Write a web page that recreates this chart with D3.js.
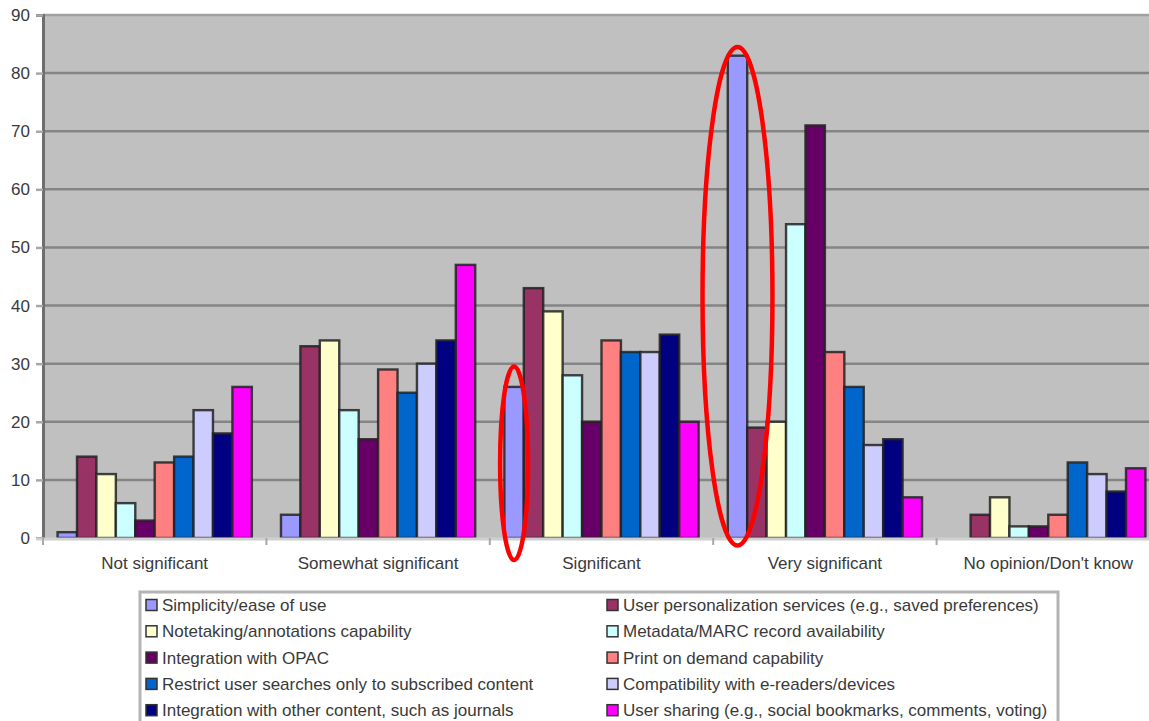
<!DOCTYPE html>
<html>
<head>
<meta charset="utf-8">
<script src="https://cdn.jsdelivr.net/npm/d3@7"></script>
<style>
  body { margin: 0; background: #fff; }
  text { font-family: "Liberation Sans", Arial, sans-serif; fill: #3a3a3a; }
</style>
</head>
<body>
<div id="chart"></div>
<script>
// categories on the x axis
let categories = ['Not significant', 'Somewhat significant', 'Significant', 'Very significant', "No opinion/Don't know"]

// one value per category, for each series
let simplicity = [1, 4, 26, 83, 0]
let personalization = [14, 33, 43, 19, 4]
let notetaking = [11, 34, 39, 20, 7]
let metadata = [6, 22, 28, 54, 2]
let opac = [3, 17, 20, 71, 2]
let printDemand = [13, 29, 34, 32, 4]
let restrictSearch = [14, 25, 32, 26, 13]
let compatibility = [22, 30, 32, 16, 11]
let integration = [18, 34, 35, 17, 8]
let sharing = [26, 47, 20, 7, 12]

let seriesNames = [
  'Simplicity/ease of use',
  'User personalization services (e.g., saved preferences)',
  'Notetaking/annotations capability',
  'Metadata/MARC record availability',
  'Integration with OPAC',
  'Print on demand capability',
  'Restrict user searches only to subscribed content',
  'Compatibility with e-readers/devices',
  'Integration with other content, such as journals',
  'User sharing (e.g., social bookmarks, comments, voting)'
]
let seriesValues = [simplicity, personalization, notetaking, metadata, opac,
  printDemand, restrictSearch, compatibility, integration, sharing]
let seriesColors = ['#9999ff', '#993366', '#ffffcc', '#ccffff', '#660066',
  '#ff8080', '#0066cc', '#ccccff', '#000080', '#ff00ff']

let yTicks = [0, 10, 20, 30, 40, 50, 60, 70, 80, 90]

// highlighted bars (red ellipses): category, series index, value span
let highlights = [
  { category: 'Significant', series: 0, top: 29.5, bottom: -3.8, rx: 0.72 },
  { category: 'Very significant', series: 0, top: 84.5, bottom: -1.3, rx: 1.8 }
]

let width = 1149
let height = 721
let plot = { left: 43, top: 15, right: 1160, bottom: 538 }

let svg = d3.select('#chart')
  .append('svg')
  .attr('width', width)
  .attr('height', height)

let x0 = d3.scaleBand()
  .domain(categories)
  .range([plot.left, plot.right])

let x1 = d3.scaleBand()
  .domain(d3.range(seriesNames.length))
  .range([0, x0.bandwidth()])
  .paddingOuter(0.75)

let y = d3.scaleLinear()
  .domain([0, 90])
  .range([plot.bottom, plot.top])

// plot background
svg.append('rect')
  .attr('x', plot.left)
  .attr('y', plot.top)
  .attr('width', plot.right - plot.left)
  .attr('height', plot.bottom - plot.top)
  .attr('fill', '#c0c0c0')

// gridlines
svg.selectAll('.grid')
  .data(yTicks.filter(d => d > 0))
  .enter()
  .append('line')
  .attr('class', 'grid')
  .attr('x1', plot.left)
  .attr('x2', plot.right)
  .attr('y1', d => y(d))
  .attr('y2', d => y(d))
  .attr('stroke', d => d === 90 ? '#a0a0a0' : '#858585')
  .attr('stroke-width', 2.5)

// y axis
let yAxis = svg.append('g')
  .attr('transform', `translate(${plot.left},0)`)
  .call(d3.axisLeft(y).tickValues(yTicks).tickSize(7).tickPadding(6))
yAxis.select('.domain').attr('stroke', '#6e6e6e').attr('stroke-width', 3)
yAxis.selectAll('.tick line').attr('stroke', '#a8a8a8').attr('stroke-width', 2.5)
yAxis.selectAll('.tick text')
  .attr('font-size', 17)
  .attr('fill', '#4a4a4a')
  .style('font-family', '"Liberation Sans", Arial, sans-serif')

// bars
let groups = svg.selectAll('.group')
  .data(categories)
  .enter()
  .append('g')
  .attr('class', 'group')
  .attr('transform', d => `translate(${x0(d)},0)`)

groups.selectAll('.bar')
  .data((c, ci) => seriesValues.map((vals, si) => ({ si: si, value: vals[ci] })))
  .enter()
  .filter(d => d.value > 0)
  .append('rect')
  .attr('class', 'bar')
  .attr('x', d => x1(d.si))
  .attr('y', d => y(d.value))
  .attr('width', x1.bandwidth())
  .attr('height', d => y(0) - y(d.value))
  .attr('fill', d => seriesColors[d.si])
  .attr('stroke', '#222')
  .attr('stroke-opacity', 0.85)
  .attr('stroke-width', 2.4)

// x axis
svg.append('line')
  .attr('x1', plot.left - 7)
  .attr('x2', plot.right)
  .attr('y1', plot.bottom + 1)
  .attr('y2', plot.bottom + 1)
  .attr('stroke', '#cfcfcf')
  .attr('stroke-width', 3)

svg.selectAll('.xtick')
  .data(categories.concat(['end']))
  .enter()
  .append('line')
  .attr('class', 'xtick')
  .attr('x1', (d, i) => i < categories.length ? x0(d) : plot.right)
  .attr('x2', (d, i) => i < categories.length ? x0(d) : plot.right)
  .attr('y1', plot.bottom)
  .attr('y2', plot.bottom + 7)
  .attr('stroke', '#a8a8a8')
  .attr('stroke-width', 2)

svg.selectAll('.xlabel')
  .data(categories)
  .enter()
  .append('text')
  .attr('class', 'xlabel')
  .attr('x', d => x0(d) + x0.bandwidth() / 2)
  .attr('y', plot.bottom + 31)
  .attr('text-anchor', 'middle')
  .attr('font-size', 17)
  .text(d => d)

// red highlight ellipses
svg.selectAll('.highlight')
  .data(highlights)
  .enter()
  .append('ellipse')
  .attr('class', 'highlight')
  .attr('cx', d => x0(d.category) + x1(d.series) + x1.bandwidth() / 2)
  .attr('cy', d => (y(d.top) + y(d.bottom)) / 2)
  .attr('rx', d => x1.bandwidth() * d.rx)
  .attr('ry', d => (y(d.bottom) - y(d.top)) / 2)
  .attr('fill', 'none')
  .attr('stroke', '#ff0000')
  .attr('stroke-width', 4.5)

// legend
let legend = svg.append('g').attr('transform', 'translate(140,592)')

legend.append('rect')
  .attr('width', 918)
  .attr('height', 160)
  .attr('fill', '#fff')
  .attr('stroke', '#b4b4b4')
  .attr('stroke-width', 3)

let colX = [6, 467]

legend.selectAll('.legend-entry')
  .data(seriesNames)
  .enter()
  .append('g')
  .attr('class', 'legend-entry')
  .attr('transform', (d, i) => `translate(${colX[i % 2]},${13 + Math.floor(i / 2) * 26.3})`)
  .each(function(d, i) {
    let g = d3.select(this)

    g.append('rect')
      .attr('x', 0)
      .attr('y', -5.5)
      .attr('width', 11)
      .attr('height', 11)
      .attr('fill', seriesColors[i])
      .attr('stroke', '#333')
      .attr('stroke-width', 1.5)

    g.append('text')
      .attr('x', 16)
      .attr('dy', '0.36em')
      .attr('font-size', 17)
      .text(d)
  })
</script>
</body>
</html>
